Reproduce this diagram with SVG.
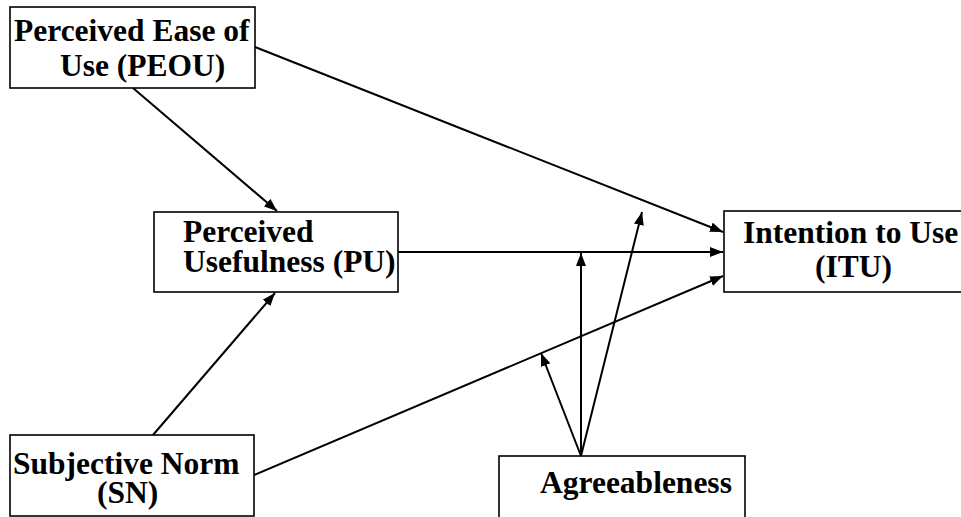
<svg xmlns="http://www.w3.org/2000/svg" width="961" height="517" viewBox="0 0 961 517">
<style>
.box{fill:#fff;stroke:#000;stroke-width:1.6}
.t{font-family:"Liberation Serif","Times New Roman",serif;font-weight:bold;font-size:31.5px;fill:#000}
.c{stroke:#000;stroke-width:2;fill:none;marker-end:url(#ah)}
</style>
<defs>
<marker id="ah" markerUnits="userSpaceOnUse" markerWidth="14" markerHeight="11" refX="13" refY="5" orient="auto">
<path d="M0,0 L13,5 L0,10 z" fill="#000"/>
</marker>
</defs>
<rect width="961" height="517" fill="#fff"/>
<g id="peou"><rect class="box" x="10" y="7" width="245" height="81"/>
<text class="t" x="14" y="41">Perceived Ease of</text>
<text class="t" x="60" y="76">Use (PEOU)</text></g>
<g id="pu"><rect class="box" x="154" y="212" width="244" height="80"/>
<text class="t" x="183" y="242">Perceived</text>
<text class="t" x="183" y="272">Usefulness (PU)</text></g>
<g id="itu"><rect class="box" x="724" y="211" width="245" height="81"/>
<text class="t" x="743" y="243">Intention to Use</text>
<text class="t" x="815" y="277">(ITU)</text></g>
<g id="sn"><rect class="box" x="10" y="435" width="244" height="81"/>
<text class="t" x="13" y="474">Subjective Norm</text>
<text class="t" x="97" y="503">(SN)</text></g>
<g id="agree"><rect class="box" x="499" y="456" width="246" height="70"/>
<text class="t" x="540" y="493">Agreeableness</text></g>
<g id="connectors">
<line class="c" x1="133" y1="88" x2="277" y2="211"/>
<line class="c" x1="255" y1="47" x2="723" y2="232"/>
<line class="c" x1="153" y1="435" x2="275" y2="293"/>
<line class="c" x1="398" y1="252" x2="723" y2="252"/>
<line class="c" x1="254" y1="475" x2="723" y2="276"/>
<line class="c" x1="581" y1="456" x2="581" y2="253"/>
<line class="c" x1="581" y1="456" x2="642" y2="212"/>
<line class="c" x1="581" y1="456" x2="541" y2="353"/>
</g>
</svg>
